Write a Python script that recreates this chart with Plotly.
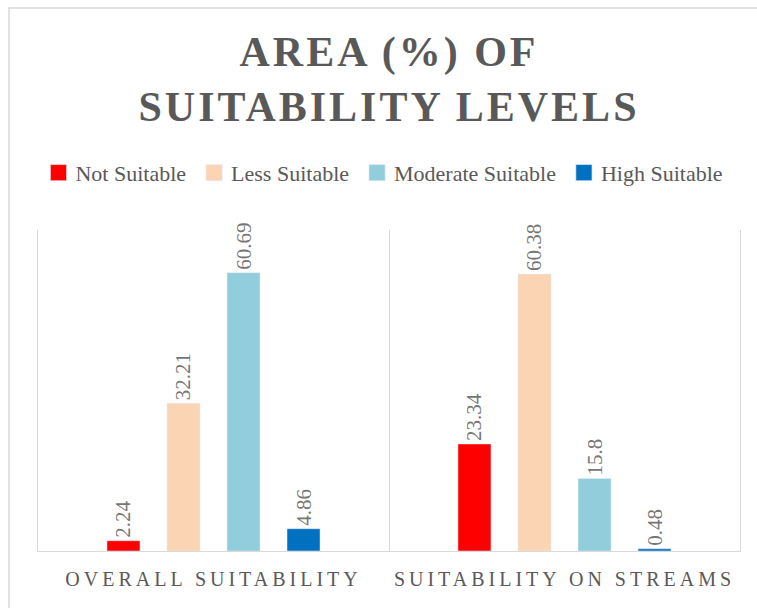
import plotly.graph_objects as go

categories = ["OVERALL SUITABILITY", "SUITABILITY ON STREAMS"]
series_names = ["Not Suitable", "Less Suitable", "Moderate Suitable", "High Suitable"]
not_suitable = [2.24, 23.34]
less_suitable = [32.21, 60.38]
moderate_suitable = [60.69, 15.8]
high_suitable = [4.86, 0.48]
colors = ["#FF0000", "#FBD4B4", "#92CDDC", "#0070C0"]

values = [not_suitable, less_suitable, moderate_suitable, high_suitable]
FONT = "Liberation Serif, Times New Roman, serif"
GRAY = "#595959"

fig = go.Figure()
for name, vals, col in zip(series_names, values, colors):
    fig.add_trace(go.Bar(
        x=categories, y=vals, name=name, marker_color=col,
        text=[str(v) for v in vals], textposition="outside", textangle=-90,
        constraintext="none", cliponaxis=False,
        textfont=dict(family=FONT, size=21, color="#767676"),
    ))

fig.update_layout(
    width=757, height=608,
    margin=dict(l=38, r=17, t=230, b=57),
    paper_bgcolor="white", plot_bgcolor="white",
    barmode="group", bargap=0.316, bargroupgap=0.45,
    title=dict(text="<b>AREA (%) OF<br>SUITABILITY LEVELS</b>", x=0.5, xref="paper",
               y=1 - 66 / 608, yanchor="top",
               font=dict(family=FONT, size=42, color=GRAY)),
    legend=dict(orientation="h", x=0.49, xanchor="center", y=1.178, yanchor="middle",
                font=dict(family=FONT, size=22, color=GRAY), itemclick=False,
                tracegroupgap=0),
    showlegend=True,
    xaxis=dict(showgrid=True, tickson="boundaries", gridcolor="#D9D9D9", gridwidth=1.3,
               showline=True, linecolor="#D9D9D9", linewidth=1.3, ticks="",
               ticklabelstandoff=10,
               tickfont=dict(family=FONT, size=20, color=GRAY)),
    yaxis=dict(range=[0, 70], showgrid=False, showticklabels=False, zeroline=False,
               showline=True, mirror=True, linecolor="#D9D9D9", linewidth=1.3, ticks=""),
    shapes=[dict(type="rect", xref="paper", yref="paper",
                 x0=(9 - 38) / 702, x1=(770 - 38) / 702,
                 y0=(551 - 640) / 321, y1=(551 - 8) / 321,
                 line=dict(color="#D9D9D9", width=1.5), layer="below")],
)

post = """
var gd = document.getElementById('{plot_id}');
function ls(){
  gd.querySelectorAll('.gtitle').forEach(function(t){t.setAttribute('letter-spacing','3px');});
  gd.querySelectorAll('.xtick text').forEach(function(t){t.setAttribute('letter-spacing','4px');});
  gd.querySelectorAll('.legendpoints path').forEach(function(p){p.setAttribute('transform','translate(23,0) scale(1.35)');});
}
ls();
gd.on('plotly_afterplot', ls);
"""
fig.write_html("out.html", post_script=post)
